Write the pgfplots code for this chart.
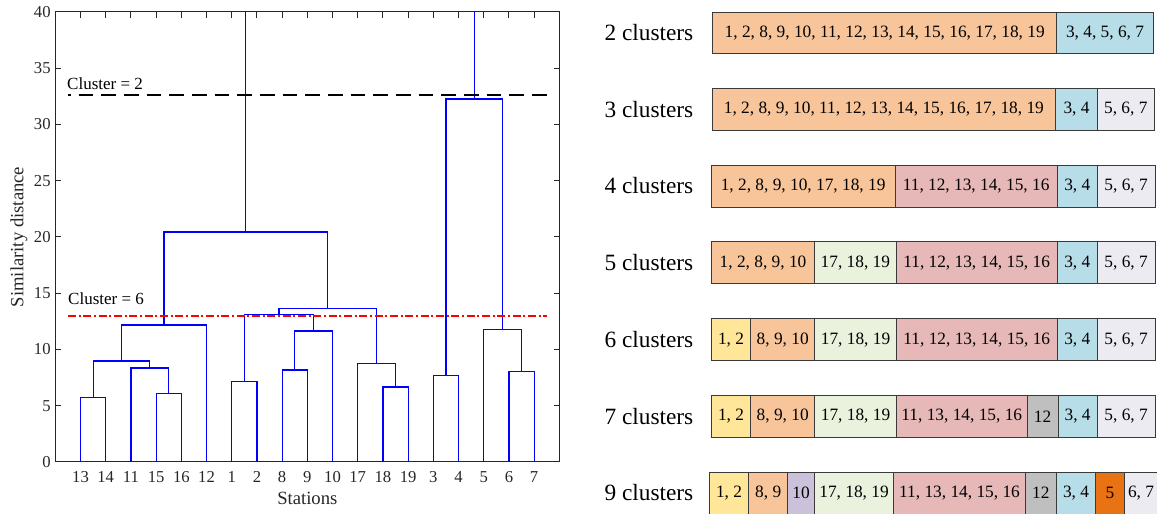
\documentclass[border=0pt]{standalone}
\usepackage{fontspec}
\setmainfont{Liberation Serif}
\usepackage{pgfplots}
\pgfplotsset{compat=1.18}

\definecolor{axisgray}{HTML}{262626}
\definecolor{dendro}{HTML}{0000FF}
\definecolor{cutred}{HTML}{FF0000}
\definecolor{boxline}{HTML}{3A3A3A}
\definecolor{cpeach}{HTML}{F8C59A}
\definecolor{cblue}{HTML}{B7DDE8}
\definecolor{clav}{HTML}{EDEBF2}
\definecolor{cpink}{HTML}{E6B9B8}
\definecolor{cgreen}{HTML}{EAF1DD}
\definecolor{cyellow}{HTML}{FFE699}
\definecolor{cgray}{HTML}{BFBFBF}
\definecolor{cpurple}{HTML}{CCC1DA}
\definecolor{corange}{HTML}{E97213}

\newcommand{\tickfont}{\fontsize{12.5}{14}\selectfont}
\newcommand{\labfont}{\fontsize{14}{16}\selectfont}
\newcommand{\boxfont}{\fontsize{13}{15}\selectfont}
\newcommand{\rowfont}{\fontsize{17.5}{20}\selectfont}

% one coloured box of a partition row: x1, x2, top, bottom, colour, text
\newcommand{\seg}[6]{%
  \addplot[draw=boxline, line width=0.75pt, fill=#5] coordinates {(#1,#3) (#2,#3) (#2,#4) (#1,#4)} -- cycle;
  \path (axis cs:#1,#3) -- (axis cs:#2,#4) node[midway, font=\boxfont, text=black] {#6};
}
% one link of the dendrogram: x left, h left, x right, h right, merge height
\newcommand{\link}[5]{%
  \addplot[draw=dendro, line width=0.85pt] coordinates {(#1,#2) (#1,#5) (#3,#5) (#3,#4)};
}

\begin{document}
\begin{tikzpicture}
\useasboundingbox (0,0) rectangle (867.75pt,385.5pt);

% right panel, in pixel units of the page
\begin{axis}[
    at={(0,0)}, anchor=south west,
    width=867.75pt, height=385.5pt, scale only axis,
    xmin=0, xmax=1157, ymin=0, ymax=514, y dir=reverse,
    hide axis,
]
\node[font=\rowfont, anchor=east] at (axis cs:698,32.8) {2 clusters};
\seg{712.7}{1056.7}{12.3}{53.3}{cpeach}{1, 2, 8, 9, 10, 11, 12, 13, 14, 15, 16, 17, 18, 19}
\seg{1056.7}{1153.3}{12.3}{53.3}{cblue}{3, 4, 5, 6, 7}

\node[font=\rowfont, anchor=east] at (axis cs:698,109.3) {3 clusters};
\seg{712}{1055.7}{88.7}{130}{cpeach}{1, 2, 8, 9, 10, 11, 12, 13, 14, 15, 16, 17, 18, 19}
\seg{1055.7}{1097.3}{88.7}{130}{cblue}{3, 4}
\seg{1097.3}{1154.3}{88.7}{130}{clav}{5, 6, 7}

\node[font=\rowfont, anchor=east] at (axis cs:698,186) {4 clusters};
\seg{711.3}{895}{165}{207}{cpeach}{1, 2, 8, 9, 10, 17, 18, 19}
\seg{895}{1057.3}{165}{207}{cpink}{11, 12, 13, 14, 15, 16}
\seg{1057.3}{1097.3}{165}{207}{cblue}{3, 4}
\seg{1097.3}{1155}{165}{207}{clav}{5, 6, 7}

\node[font=\rowfont, anchor=east] at (axis cs:698,262.7) {5 clusters};
\seg{711.3}{814.7}{241.7}{283.7}{cpeach}{1, 2, 8, 9, 10}
\seg{814.7}{896}{241.7}{283.7}{cgreen}{17, 18, 19}
\seg{896}{1057.3}{241.7}{283.7}{cpink}{11, 12, 13, 14, 15, 16}
\seg{1057.3}{1097.3}{241.7}{283.7}{cblue}{3, 4}
\seg{1097.3}{1155}{241.7}{283.7}{clav}{5, 6, 7}

\node[font=\rowfont, anchor=east] at (axis cs:698,339.7) {6 clusters};
\seg{711.3}{750.7}{318.7}{360.7}{cyellow}{1, 2}
\seg{750.7}{814.7}{318.7}{360.7}{cpeach}{8, 9, 10}
\seg{814.7}{896.3}{318.7}{360.7}{cgreen}{17, 18, 19}
\seg{896.3}{1057.3}{318.7}{360.7}{cpink}{11, 12, 13, 14, 15, 16}
\seg{1057.3}{1097.3}{318.7}{360.7}{cblue}{3, 4}
\seg{1097.3}{1155}{318.7}{360.7}{clav}{5, 6, 7}

\node[font=\rowfont, anchor=east] at (axis cs:698,416.3) {7 clusters};
\seg{711.3}{750.7}{395.3}{437.3}{cyellow}{1, 2}
\seg{750.7}{814.7}{395.3}{437.3}{cpeach}{8, 9, 10}
\seg{814.7}{896.3}{395.3}{437.3}{cgreen}{17, 18, 19}
\seg{896.3}{1027.3}{395.3}{437.3}{cpink}{11, 13, 14, 15, 16}
\seg{1027.3}{1058}{395.3}{437.3}{cgray}{12}
\seg{1058}{1097.3}{395.3}{437.3}{cblue}{3, 4}
\seg{1097.3}{1155}{395.3}{437.3}{clav}{5, 6, 7}

\node[font=\rowfont, anchor=east] at (axis cs:698,493) {9 clusters};
\seg{709.3}{748.7}{472}{514}{cyellow}{1, 2}
\seg{748.7}{787.7}{472}{514}{cpeach}{8, 9}
\seg{787.7}{814.3}{472}{514}{cpurple}{10}
\seg{814.3}{893.7}{472}{514}{cgreen}{17, 18, 19}
\seg{893.7}{1025.3}{472}{514}{cpink}{11, 13, 14, 15, 16}
\seg{1025.3}{1056.3}{472}{514}{cgray}{12}
\seg{1056.3}{1095.7}{472}{514}{cblue}{3, 4}
\seg{1095.7}{1124}{472}{514}{corange}{5}
\seg{1124}{1158}{472}{514}{clav}{6, 7}
\end{axis}

% dendrogram
\begin{axis}[
    at={(41.5pt,39pt)}, anchor=south west,
    width=378pt, height=337.5pt, scale only axis,
    xmin=0, xmax=20, ymin=0, ymax=40,
    xtick={1,...,19},
    xticklabels={13,14,11,15,16,12,1,2,8,9,10,17,18,19,3,4,5,6,7},
    ytick={0,5,...,40},
    tick align=inside, xtick pos=both, ytick pos=both,
    major tick length=4.3pt,
    axis line style={draw=axisgray, line width=0.75pt},
    tick style={draw=axisgray, line width=0.75pt},
    ticklabel style={font=\tickfont, text=axisgray},
    xticklabel style={yshift=-3.8pt},
    /pgf/number format/assume math mode=true,
    xlabel={Stations}, ylabel={Similarity distance},
    label style={font=\labfont, text=axisgray},
    ylabel style={yshift=-2pt},
]
\link{1}{0}{2}{0}{5.75}
\link{4}{0}{5}{0}{6.1}
\link{3}{0}{4.5}{6.1}{8.36}
\link{1.5}{5.75}{3.75}{8.36}{8.98}
\link{2.625}{8.98}{6}{0}{12.18}
\link{7}{0}{8}{0}{7.14}
\link{9}{0}{10}{0}{8.18}
\link{9.5}{8.18}{11}{0}{11.64}
\link{7.5}{7.14}{10.25}{11.64}{13.12}
\link{13}{0}{14}{0}{6.67}
\link{12}{0}{13.5}{6.67}{8.74}
\link{8.875}{13.12}{12.75}{8.74}{13.63}
\link{4.3125}{12.18}{10.8125}{13.63}{20.44}
\link{15}{0}{16}{0}{7.67}
\link{18}{0}{19}{0}{8.03}
\link{17}{0}{18.5}{8.03}{11.76}
\link{15.5}{7.67}{17.75}{11.76}{32.27}
\addplot[draw=dendro, line width=0.85pt] coordinates {(7.5625,20.44) (7.5625,45)};
\addplot[draw=dendro, line width=0.85pt] coordinates {(16.625,32.27) (16.625,45)};

\addplot[draw=black, line width=1.6pt, dash pattern=on 11pt off 6pt, dash phase=9pt] coordinates {(0.5,32.6) (19.55,32.6)};
\addplot[draw=cutred, line width=1.2pt, dash pattern=on 6pt off 2pt on 1.5pt off 2pt] coordinates {(0.5,13.0) (19.5,13.0)};

\node[font=\fontsize{12.75}{14}\selectfont, anchor=base west, inner sep=0pt] at (axis cs:0.46,33.07) {Cluster = 2};
\node[font=\fontsize{12.75}{14}\selectfont, anchor=base west, inner sep=0pt] at (axis cs:0.5,13.96) {Cluster = 6};
\end{axis}
\end{tikzpicture}
\end{document}
